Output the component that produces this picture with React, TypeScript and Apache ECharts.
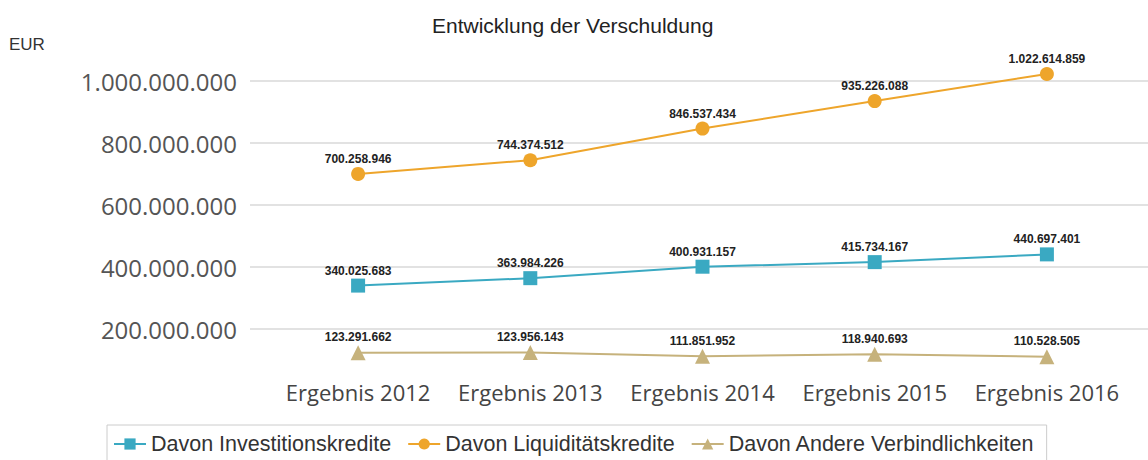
import React, { useEffect, useRef } from "react";
import * as echarts from "echarts";

const categories = ["Ergebnis 2012", "Ergebnis 2013", "Ergebnis 2014", "Ergebnis 2015", "Ergebnis 2016"];
const investitionskredite = [340025683, 363984226, 400931157, 415734167, 440697401];
const liquiditaetskredite = [700258946, 744374512, 846537434, 935226088, 1022614859];
const andere = [123291662, 123956143, 111851952, 118940693, 110528505];
const seriesNames = ["Davon Investitionskredite", "Davon Liquiditätskredite", "Davon Andere Verbindlichkeiten"];
const yMin = 0;
const yMax = 1000000000;
const yInterval = 200000000;

const fmt = (v: number) => String(Math.round(v)).replace(/\B(?=(\d{3})+(?!\d))/g, ".");

export default function App() {
  const ref = useRef<HTMLDivElement>(null);
  useEffect(() => {
    if (!ref.current) return;
    const chart = echarts.init(ref.current, undefined, { renderer: "svg" });
    const labelStyle = {
      show: true,
      position: "top" as const,
      distance: 2,
      fontFamily: "Liberation Sans, Arial, sans-serif",
      fontSize: 12,
      fontWeight: "bold" as const,
      color: "#222",
      formatter: (p: any) => fmt(p.value),
    };
    chart.setOption({
      animation: false,
      backgroundColor: "#fff",
      title: {
        text: "Entwicklung der Verschuldung",
        left: 427,
        top: 10,
        textStyle: { fontFamily: "Liberation Sans, Arial, sans-serif", fontSize: 21, fontWeight: "normal", color: "#222" },
      },
      graphic: [
        {
          type: "text",
          left: 9,
          top: 36,
          style: { text: "EUR", fontFamily: "Liberation Sans, Arial, sans-serif", fontSize: 17, fill: "#333" },
        },
      ],
      legend: {
        left: 107,
        top: 425,
        padding: [8, 12, 30, 6],
        borderColor: "#ccc",
        borderWidth: 1,
        itemWidth: 32,
        itemHeight: 14,
        itemGap: 16,
        textStyle: { fontFamily: "Liberation Sans, Arial, sans-serif", fontSize: 21.5, color: "#333" },
        data: seriesNames,
      },
      grid: [
        { left: 272, right: 15, top: 81, bottom: 69 },
        { left: 250, right: 0, top: 81, bottom: 69 },
      ],
      xAxis: [
        {
          type: "category",
          gridIndex: 0,
          data: categories,
          boundaryGap: true,
          axisLine: { show: false },
          axisTick: { show: false },
          axisLabel: { interval: 0, hideOverlap: false, margin: -10, fontFamily: "Open Sans, sans-serif", fontSize: 22, color: "#444" },
        },
        { type: "category", gridIndex: 1, data: categories, show: false },
      ],
      yAxis: [
        {
          type: "value",
          gridIndex: 0,
          min: yMin,
          max: yMax,
          interval: yInterval,
          show: false,
          splitLine: { show: false },
        },
        {
          type: "value",
          gridIndex: 1,
          min: yMin,
          max: yMax,
          interval: yInterval,
          axisLine: { show: false },
          axisTick: { show: false },
          axisLabel: {
            showMinLabel: false,
            margin: 13,
            fontFamily: "Open Sans, sans-serif",
            fontSize: 24,
            color: "#555",
            formatter: (v: number) => fmt(v),
          },
          splitLine: { show: true, showMinLine: false, lineStyle: { color: "#d9d9d9", width: 1.5 } },
        },
      ],
      series: [
        {
          name: seriesNames[0],
          type: "line",
          xAxisIndex: 0,
          yAxisIndex: 0,
          data: investitionskredite,
          symbol: "rect",
          symbolSize: 14,
          clip: false,
          color: "#3aa9c2",
          lineStyle: { width: 2, color: "#3aa9c2" },
          itemStyle: { color: "#3aa9c2" },
          label: labelStyle,
        },
        {
          name: seriesNames[1],
          type: "line",
          xAxisIndex: 0,
          yAxisIndex: 0,
          data: liquiditaetskredite,
          symbol: "circle",
          symbolSize: 14,
          clip: false,
          color: "#eea52b",
          lineStyle: { width: 2, color: "#eea52b" },
          itemStyle: { color: "#eea52b" },
          label: labelStyle,
        },
        {
          name: seriesNames[2],
          type: "line",
          xAxisIndex: 0,
          yAxisIndex: 0,
          data: andere,
          symbol: "triangle",
          symbolSize: 15,
          clip: false,
          color: "#c6b27c",
          lineStyle: { width: 2, color: "#c6b27c" },
          itemStyle: { color: "#c6b27c" },
          label: labelStyle,
        },
      ],
    });
    return () => chart.dispose();
  }, []);
  return <div ref={ref} style={{ width: 1148, height: 460, position: "absolute", left: 0, top: 0 }} />;
}
